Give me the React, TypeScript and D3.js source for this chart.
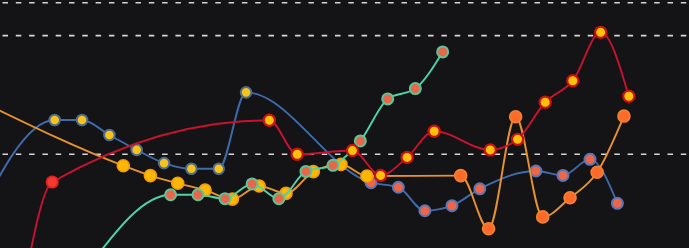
import React from "react";
import * as d3 from "d3";

const WIDTH = 689;
const HEIGHT = 248;

// Reference levels drawn as dashed rules
const refLevels = [100, 85, 31];

// Steel-blue series
const blueX = [-1.1, 2, 3, 4, 5, 6, 7, 8, 9, 13.57, 14.57, 15.54, 16.53, 17.55, 19.6, 20.59, 21.58, 22.58];
const blueY = [-4.5, 46.6, 46.6, 39.8, 33.0, 27.0, 24.4, 24.4, 59.2, 18.1, 16.0, 5.3, 7.6, 15.3, 23.4, 21.4, 28.7, 8.7];
const blueSplit = 9;

// Amber series
const orangeX = [-0.51, 4.51, 5.5, 6.5, 7.5, 8.5, 9.48, 10.46, 11.46, 12.47, 13.42, 16.85, 17.87, 18.86, 19.85, 20.85, 21.84, 22.82];
const orangeY = [53.9, 25.8, 21.3, 17.8, 14.7, 10.6, 16.6, 13.2, 23.1, 26.4, 21.1, 21.3, -2.9, 48.1, 2.5, 11.2, 22.8, 48.4];
const orangeSplit = 11;

// Mint series
const greenX = [3.24, 6.24, 7.24, 8.23, 9.22, 10.2, 11.19, 12.18, 13.18, 14.18, 15.19, 16.19];
const greenY = [-20.2, 12.6, 12.6, 10.8, 17.5, 10.8, 23.2, 26.0, 37.1, 56.2, 60.9, 77.6];
const greenSplit = 12;

// Crimson series
const redX = [0.91, 1.91, 9.85, 10.87, 12.89, 13.92, 14.89, 15.88, 17.93, 18.93, 19.94, 20.95, 21.97, 23.0];
const redY = [-26.2, 18.4, 46.5, 31.0, 32.7, 21.4, 29.6, 41.5, 33.0, 37.8, 54.7, 64.5, 86.5, 57.4];
const redSplit = 2;

type Marker = { fill: string; stroke: string; r: number; sw: number };
type Series = {
  key: string;
  xs: number[];
  ys: number[];
  split: number;
  color: string;
  early: Marker;
  late: Marker;
};

const series: Series[] = [
  {
    key: "blue",
    xs: blueX,
    ys: blueY,
    split: blueSplit,
    color: "#3f6bab",
    early: { fill: "#f6c21c", stroke: "#4d6c8f", r: 5.3, sw: 2 },
    late: { fill: "#ee654a", stroke: "#5a76b4", r: 5.5, sw: 2 },
  },
  {
    key: "orange",
    xs: orangeX,
    ys: orangeY,
    split: orangeSplit,
    color: "#e8922e",
    early: { fill: "#ffb703", stroke: "#f39c0a", r: 6, sw: 1.6 },
    late: { fill: "#fe6a2c", stroke: "#f2832c", r: 6, sw: 1.6 },
  },
  {
    key: "green",
    xs: greenX,
    ys: greenY,
    split: greenSplit,
    color: "#4fd4a6",
    early: { fill: "#e8664b", stroke: "#5cc598", r: 5.5, sw: 2 },
    late: { fill: "#e8664b", stroke: "#5cc598", r: 5.5, sw: 2 },
  },
  {
    key: "red",
    xs: redX,
    ys: redY,
    split: redSplit,
    color: "#c8122f",
    early: { fill: "#f23b30", stroke: "#e0201e", r: 5.7, sw: 1.8 },
    late: { fill: "#ffc10a", stroke: "#cc0f12", r: 5.6, sw: 2.2 },
  },
];

export default function App() {
  const xScale = d3.scaleLinear().domain([0, 25.2]).range([0, WIDTH]);
  const yScale = d3.scaleLinear().domain([31, 100]).range([154.3, 2.7]);

  const line = d3
    .line<[number, number]>()
    .x((d) => xScale(d[0]))
    .y((d) => yScale(d[1]))
    .curve(d3.curveMonotoneX);

  return (
    <div style={{ position: "fixed", left: 0, top: 0, width: WIDTH, height: HEIGHT }}>
      <svg width={WIDTH} height={HEIGHT} style={{ display: "block", background: "#141417" }}>
        <rect x={0} y={0} width={WIDTH} height={HEIGHT} fill="#141417" />
        {refLevels.map((v) => (
          <line
            key={v}
            x1={0}
            x2={WIDTH}
            y1={yScale(v)}
            y2={yScale(v)}
            stroke="#d6d6d6"
            strokeWidth={1.6}
            strokeDasharray="5.5 7.8"
            strokeDashoffset={-2.5}
          />
        ))}
        {series.map((s) => {
          const pts: [number, number][] = s.xs.map((x, i) => [x, s.ys[i]]);
          return (
            <g key={s.key}>
              <path d={line(pts) ?? ""} fill="none" stroke={s.color} strokeWidth={1.9} />
              {pts.map((p, i) => {
                const m = i < s.split ? s.early : s.late;
                return (
                  <circle
                    key={i}
                    cx={xScale(p[0])}
                    cy={yScale(p[1])}
                    r={m.r}
                    fill={m.fill}
                    stroke={m.stroke}
                    strokeWidth={m.sw}
                  />
                );
              })}
            </g>
          );
        })}
      </svg>
    </div>
  );
}
